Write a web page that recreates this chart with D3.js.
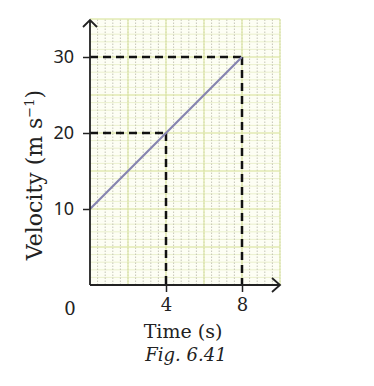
<!DOCTYPE html>
<html lang="en">
<head>
  <meta charset="UTF-8">
  <script src="https://d3js.org/d3.v7.min.js"></script>
  <style>
    body { margin: 0; background: #fff; }
    .minor { stroke: #b8b8a8; stroke-width: 0.8px; stroke-dasharray: 1.5 1.5; }
    .minorh { stroke: #e6ecc4; stroke-width: 0.8px; }
    .major { stroke: #dde7a6; stroke-width: 1.2px; }
    .guide { fill: none; stroke: #111; stroke-width: 2.5px; stroke-dasharray: 8 5; }
  </style>
</head>
<body>
<script>
// data
const times = [0, 8];
const velocities = [10, 30];
const marks = [{t: 4, v: 20}, {t: 8, v: 30}];
const yTicks = [10, 20, 30];
const xTicks = [4, 8];

const svg = d3.select("body").append("svg")
  .attr("width", 374)
  .attr("height", 386);

const x = d3.scaleLinear().domain([0, 10]).range([90, 280]);
const y = d3.scaleLinear().domain([0, 35]).range([285, 19]);

// grid background
svg.append("rect")
  .attr("x", x(0)).attr("y", y(35))
  .attr("width", x(10) - x(0)).attr("height", y(0) - y(35))
  .attr("fill", "#fdfef4");

const g = svg.append("g");
// minor horizontal
g.selectAll(".minorh").data(d3.range(1, 36)).enter().append("line")
  .attr("class", "minorh")
  .attr("x1", x(0)).attr("x2", x(10))
  .attr("y1", d => y(d)).attr("y2", d => y(d));
// minor vertical
g.selectAll(".minor").data(d3.range(1, 26).map(d => d * 0.4)).enter().append("line")
  .attr("class", "minor")
  .attr("x1", d => x(d)).attr("x2", d => x(d))
  .attr("y1", y(0)).attr("y2", y(35));
// major
g.selectAll(".majh").data(d3.range(5, 36, 5)).enter().append("line")
  .attr("class", "major")
  .attr("x1", x(0)).attr("x2", x(10))
  .attr("y1", d => y(d)).attr("y2", d => y(d));
g.selectAll(".majv").data(d3.range(2, 11, 2)).enter().append("line")
  .attr("class", "major")
  .attr("x1", d => x(d)).attr("x2", d => x(d))
  .attr("y1", y(0)).attr("y2", y(35));

// dashed guides
marks.forEach(m => {
  svg.append("path").attr("class", "guide")
    .attr("d", `M${x(0)},${y(m.v)}H${x(m.t)}`);
  svg.append("path").attr("class", "guide")
    .attr("d", `M${x(m.t)},${y(m.v)}V${y(0)}`);
});

// the line
const line = d3.line().x(d => x(d[0])).y(d => y(d[1]));
svg.append("path")
  .datum(times.map((t, i) => [t, velocities[i]]))
  .attr("d", line)
  .attr("fill", "none")
  .attr("stroke", "#8684b0")
  .attr("stroke-width", 2.2);

// axes
const yAxis = svg.append("g").attr("transform", `translate(${x(0)},0)`)
  .call(d3.axisLeft(y).tickValues(yTicks).tickSize(7).tickPadding(9));
yAxis.select(".domain").remove();
yAxis.selectAll("line").attr("stroke", "#222").attr("stroke-width", 1.5);
yAxis.selectAll("text").attr("font-family", "Noto Sans").attr("font-size", 18).attr("fill", "#222");

const xAxis = svg.append("g").attr("transform", `translate(0,${y(0)})`)
  .call(d3.axisBottom(x).tickValues(xTicks).tickSize(7).tickPadding(6));
xAxis.select(".domain").remove();
xAxis.selectAll("line").attr("stroke", "#222").attr("stroke-width", 1.5);
xAxis.selectAll("text").attr("font-family", "DejaVu Serif").attr("font-size", 18).attr("fill", "#222");

svg.append("text").attr("x", 70).attr("y", 315)
  .attr("text-anchor", "middle")
  .attr("font-family", "DejaVu Serif").attr("font-size", 18).attr("fill", "#222")
  .text("0");

// axis lines with arrows
svg.append("path")
  .attr("d", `M${x(0)},${y(0)}V${y(35) + 1}M${x(0) - 7},${y(35) + 8}L${x(0)},${y(35) + 1}L${x(0) + 7},${y(35) + 8}`)
  .attr("fill", "none").attr("stroke", "#222").attr("stroke-width", 1.8);
svg.append("path")
  .attr("d", `M${x(0)},${y(0)}H${x(10)}M${x(10) - 8},${y(0) - 7}L${x(10)},${y(0)}L${x(10) - 8},${y(0) + 7}`)
  .attr("fill", "none").attr("stroke", "#222").attr("stroke-width", 1.8);

// titles
svg.append("text")
  .attr("transform", "translate(42,175) rotate(-90)")
  .attr("text-anchor", "middle")
  .attr("font-family", "DejaVu Serif").attr("font-size", 22).attr("fill", "#222")
  .html("Velocity (m s<tspan dy='-8' font-size='13'>−1</tspan><tspan dy='8'>)</tspan>");

svg.append("text").attr("x", 183).attr("y", 338)
  .attr("text-anchor", "middle")
  .attr("font-family", "DejaVu Serif").attr("font-size", 19).attr("fill", "#222")
  .text("Time (s)");

svg.append("text").attr("x", 186).attr("y", 361)
  .attr("text-anchor", "middle")
  .attr("font-family", "DejaVu Serif").attr("font-style", "italic")
  .attr("font-size", 18).attr("fill", "#222")
  .text("Fig. 6.41");
</script>
</body>
</html>
